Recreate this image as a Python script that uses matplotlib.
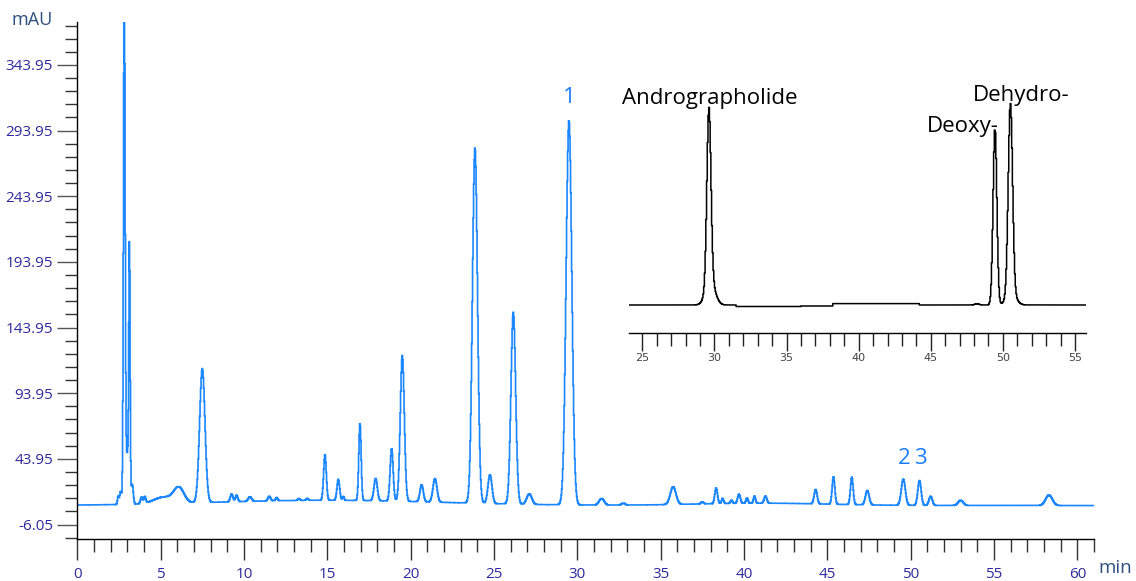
import numpy as np
import matplotlib
matplotlib.use('Agg')
import matplotlib.pyplot as plt
from matplotlib.ticker import FixedLocator

plt.rcParams['font.family'] = ['Open Sans', 'DejaVu Sans']
plt.rcParams['axes.unicode_minus'] = False

# ---------------- main chromatogram: peak table ----------------
# retention time (min), height above baseline (mAU), peak width sigma (min)
peak_times = [2.45, 2.6, 2.82, 3.0, 3.13, 3.3, 3.85, 4.05, 5.2, 6.1, 7.5,
              9.26, 9.56, 10.36, 11.52, 11.96, 13.3, 13.8,
              14.86, 15.66, 15.96, 16.96, 17.9, 18.86, 19.5, 20.66, 21.46,
              23.86, 24.76, 26.16, 27.12, 29.5, 31.46, 32.76,
              35.75, 37.5, 38.33, 38.72, 39.25, 39.7, 40.18, 40.63, 41.29,
              44.3, 45.37, 46.47, 47.4, 49.56, 50.53, 51.2, 53.0, 58.3]
peak_heights = [6, 10, 390, 38, 190, 15, 5, 5, 5, 11, 102,
                6, 5, 3.5, 3.5, 2.5, 1.5, 1.5,
                35, 16, 3, 59, 17, 40, 111, 13, 18,
                271, 22, 146, 8, 293, 5, 1.5,
                13.5, 1.5, 12, 4, 2.5, 7, 4, 5.5, 5.5,
                11, 21, 21, 11, 20, 19, 7, 4, 8]
peak_widths = [0.04, 0.06, 0.05, 0.09, 0.04, 0.06, 0.06, 0.06, 0.6, 0.3, 0.16,
               0.08, 0.07, 0.1, 0.08, 0.06, 0.06, 0.06,
               0.08, 0.08, 0.05, 0.07, 0.1, 0.09, 0.12, 0.1, 0.12,
               0.15, 0.12, 0.14, 0.15, 0.17, 0.15, 0.1,
               0.17, 0.08, 0.08, 0.06, 0.06, 0.08, 0.06, 0.06, 0.08,
               0.09, 0.08, 0.08, 0.11, 0.12, 0.1, 0.1, 0.15, 0.2]
baseline_level = 8.4
drift_times = [15.0, 41.0]
drift_heights = [4.0, 1.8]
drift_widths = [7.0, 4.0]
run_end = 61.0

y_major = [-6.05 + 50 * k for k in range(8)]
y_minor = [-16.05 + 10 * k for k in range(40)]
x_major = list(range(0, 61, 5))
x_minor = list(range(0, 62))

label_texts = ['1', '2', '3']
label_times = [29.5, 49.6, 50.6]
label_levels = [314.7, 40.0, 40.0]

# ---------------- inset chromatogram ----------------
inset_times = [29.62, 29.72, 48.2, 49.45, 50.52, 50.58]
inset_heights = [175, 24, 1.2, 177, 190, 12]
inset_widths = [0.14, 0.32, 0.15, 0.13, 0.15, 0.32]
inset_step_starts = [31.5, 36.0, 38.2, 44.2]
inset_step_levels = [-1.5, -1.0, 1.4, 0.0]
inset_start, inset_end = 24.08, 55.76
inset_major = [25, 30, 35, 40, 45, 50, 55]
inset_minor = list(range(25, 56))
inset_names = ['Andrographolide', 'Dehydro-', 'Deoxy-']
inset_name_x = [23.57, 47.91, 44.72]
inset_name_y = [200.7, 204.0, 173.3]


def trace(t, times, heights, widths):
    y = np.zeros_like(t)
    for t0, h, s in zip(times, heights, widths):
        y += h * np.exp(-0.5 * ((t - t0) / s) ** 2)
    return y


W, H = 1136, 581
fig = plt.figure(figsize=(W / 100, H / 100), dpi=100)
fig.patch.set_facecolor('white')

ax = fig.add_axes([77.3 / W, 1 - 539.3 / H, (61 * 16.667) / W, (539.3 - 21.5) / H])
t = np.arange(0, run_end + 0.001, 0.03)
y = baseline_level + trace(t, peak_times, peak_heights, peak_widths) \
    + trace(t, drift_times, drift_heights, drift_widths)
ax.plot(t, y, color='#1a86ff', lw=1.2, drawstyle='steps-mid', solid_joinstyle='miter')
ax.set_xlim(0, run_end)
ax.set_ylim(-17.3, 377.0)
for s in ['top', 'right']:
    ax.spines[s].set_visible(False)
for s in ['left', 'bottom']:
    ax.spines[s].set_linewidth(1.0)
    ax.spines[s].set_color('black')
ax.xaxis.set_major_locator(FixedLocator(x_major))
ax.xaxis.set_minor_locator(FixedLocator(x_minor))
ax.yaxis.set_major_locator(FixedLocator(y_major))
ax.yaxis.set_minor_locator(FixedLocator(y_minor))
ax.set_yticklabels([f'{v:.2f}' for v in y_major])
ax.set_xticklabels([str(v) for v in x_major])
lab_col = '#2f2a9c'
ax.tick_params(axis='x', which='major', length=15, width=1, color='#333333',
               labelsize=11, labelcolor=lab_col, pad=5)
ax.tick_params(axis='x', which='minor', length=9.6, width=1, color='#333333')
ax.tick_params(axis='y', which='major', length=14.4, width=1, color='#555555',
               labelsize=11, labelcolor=lab_col, pad=3)
ax.tick_params(axis='y', which='minor', length=8.6, width=1, color='#333333')

for txt, tx, ty in zip(label_texts, label_times, label_levels):
    ax.text(tx, ty, txt, ha='center', va='baseline', fontsize=16, color='#1a7cff')

fig.text(11.7 / W, 1 - 25 / H, 'mAU', ha='left', va='baseline', fontsize=13, color='#2d4f7e')
fig.text(1098 / W, 1 - 573.3 / H, 'min', ha='left', va='baseline', fontsize=13.5, color='#2d4f7e')

# inset
ia = fig.add_axes([629 / W, 1 - 333.3 / H, (1086 - 629) / W, (333.3 - 95) / H])
ia.set_facecolor('none')
ti = np.arange(inset_start, inset_end + 0.001, 0.05)
base = np.zeros_like(ti)
for st, lv in zip(inset_step_starts, inset_step_levels):
    base[ti >= st] = lv
yi = base + trace(ti, inset_times, inset_heights, inset_widths)
ia.plot(ti, yi, color='black', lw=1.1, drawstyle='steps-mid')
ia.set_xlim(inset_start, inset_end)
ia.set_ylim(-28.3, 210)
for s in ['top', 'right', 'left']:
    ia.spines[s].set_visible(False)
ia.spines['bottom'].set_linewidth(1.0)
ia.set_yticks([])
ia.xaxis.set_major_locator(FixedLocator(inset_major))
ia.xaxis.set_minor_locator(FixedLocator(inset_minor))
ia.set_xticklabels([str(v) for v in inset_major])
ia.tick_params(axis='x', which='major', length=13, width=1, color='#222222',
               labelsize=8, labelcolor='#444444', pad=1.5)
ia.tick_params(axis='x', which='minor', length=9, width=1, color='#222222')
for lab in ia.get_xticklabels():
    lab.set_family('DejaVu Sans')
for txt, tx, ty in zip(inset_names, inset_name_x, inset_name_y):
    ia.text(tx, ty, txt, ha='left', va='baseline', fontsize=16, color='black', clip_on=False)

fig.savefig('out.png', dpi=100)
